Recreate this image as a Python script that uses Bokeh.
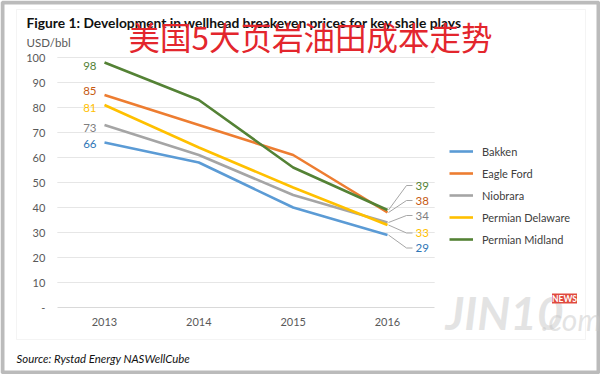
from bokeh.plotting import figure
from bokeh.models import (Range1d, FixedTicker, Label, LabelSet, ColumnDataSource,
                          Legend, LegendItem, BoxAnnotation)
from bokeh.core.properties import value
from bokeh.embed import file_html
from bokeh.resources import INLINE

# ---------------- data ----------------
years = [2013, 2014, 2015, 2016]
year_labels = ["2013", "2014", "2015", "2016"]
series_names = ["Bakken", "Eagle Ford", "Niobrara", "Permian Delaware", "Permian Midland"]
bakken = [66, 58, 40, 29]
eagle_ford = [85, 73, 61, 38]
niobrara = [73, 61, 45, 34]
permian_delaware = [81, 64, 48, 33]
permian_midland = [98, 83, 56, 39]
y_ticks = [0, 10, 20, 30, 40, 50, 60, 70, 80, 90, 100]
y_tick_labels = ["-", "10", "20", "30", "40", "50", "60", "70", "80", "90", "100"]

series_values = [bakken, eagle_ford, niobrara, permian_delaware, permian_midland]

# ---------------- style / layout ----------------
line_colors = ["#5B9BD5", "#ED7D31", "#A5A5A5", "#FFC000", "#548235"]
label_colors = ["#2E75B6", "#C65911", "#7F7F7F", "#FFC000", "#548235"]
FONT = "Lato"

W, H = 600, 374
# pixel positions of the first/last year and of y=0 / y=100
X_FIRST_PX, X_LAST_PX = 104, 387
Y0_PX, Y100_PX = 307, 57
PX_X = (X_LAST_PX - X_FIRST_PX) / (years[-1] - years[0])
PX_Y = (Y0_PX - Y100_PX) / 100.0
x_start = years[0] - X_FIRST_PX / PX_X
x_end = x_start + W / PX_X
y_start = 0 - (H - Y0_PX) / PX_Y
y_end = 100 + Y100_PX / PX_Y
X_LO, X_HI = years[0] - 0.5, years[-1] + 0.5

# label offsets (px)
left_dy = [-1, 4, -3, -3, -3]
right_dy = [-13, 12, 7, -8, 24.5]

p = figure(width=W, height=H, output_backend="svg", toolbar_location=None,
           x_range=Range1d(x_start, x_end), y_range=Range1d(y_start, y_end),
           min_border=0, min_border_left=0, min_border_right=0,
           min_border_top=0, min_border_bottom=0,
           background_fill_color="white", border_fill_color="white")
p.outline_line_color = None
p.xgrid.grid_line_color = None
p.ygrid.grid_line_color = None

# axes drawn at fixed positions
p.xaxis.ticker = FixedTicker(ticks=years)
p.xaxis.major_label_overrides = {y: l for y, l in zip(years, year_labels)}
p.yaxis.ticker = FixedTicker(ticks=y_ticks)
p.yaxis.major_label_overrides = {t: l for t, l in zip(y_ticks, y_tick_labels)}
for ax in (p.xaxis, p.yaxis):
    ax.major_tick_line_color = None
    ax.minor_tick_line_color = None
    ax.major_tick_out = 0
    ax.major_tick_in = 0
    ax.minor_tick_out = 0
    ax.minor_tick_in = 0
    ax.major_label_text_font = FONT
    ax.major_label_text_font_size = "11px"
    ax.major_label_text_color = "#595959"
p.yaxis.fixed_location = X_LO
p.yaxis.axis_line_color = None
p.yaxis.major_label_standoff = 12
p.xaxis.fixed_location = 0
p.xaxis.bounds = (X_LO, X_HI)
p.xaxis.axis_line_color = "#D9D9D9"
p.xaxis.major_label_standoff = 10

# horizontal gridlines
grid_y = y_ticks[1:]
p.segment(x0=[X_LO] * len(grid_y), x1=[X_HI] * len(grid_y), y0=grid_y, y1=grid_y,
          line_color="#E6E6E6", line_width=1)

# lines
renderers = []
for name, vals, col in zip(series_names, series_values, line_colors):
    r = p.line(years, vals, line_color=col, line_width=2.6)
    renderers.append(r)

# leader lines for right-hand labels
xs, ys = [], []
for vals, dy in zip(series_values, right_dy):
    v = vals[-1]
    xs.append([years[-1] + 1 / PX_X, years[-1] + 19 / PX_X, years[-1] + 25 / PX_X])
    ys.append([v, v + dy / PX_Y, v + dy / PX_Y])
p.multi_line(xs, ys, line_color="#A6A6A6", line_width=1)

# data labels
left_src = ColumnDataSource(dict(
    x=[years[0]] * 5, y=[v[0] for v in series_values],
    t=[str(v[0]) for v in series_values], c=label_colors, dy=left_dy))
p.add_layout(LabelSet(x="x", y="y", text="t", source=left_src, text_color="c",
                      x_offset=-8, y_offset="dy", text_align="right",
                      text_baseline="middle", text_font=value(FONT),
                      text_font_size="11.5px"))
right_src = ColumnDataSource(dict(
    x=[years[-1]] * 5, y=[v[-1] for v in series_values],
    t=[str(v[-1]) for v in series_values], c=label_colors, dy=right_dy))
p.add_layout(LabelSet(x="x", y="y", text="t", source=right_src, text_color="c",
                      x_offset=28, y_offset="dy", text_align="left",
                      text_baseline="middle", text_font=value(FONT),
                      text_font_size="11.5px"))

# legend
legend = Legend(items=[LegendItem(label=n, renderers=[r]) for n, r in zip(series_names, renderers)],
                location=(449, H - 250), orientation="vertical",
                glyph_width=24, glyph_height=22, label_height=22, spacing=0,
                padding=0, margin=0, label_standoff=9,
                border_line_color=None, background_fill_alpha=0,
                label_text_font=FONT, label_text_font_size="11px",
                label_text_color="#404040")
p.add_layout(legend)

# boxes (screen px)
p.add_layout(BoxAnnotation(left=16, right=585, top=H - 9, bottom=H - 339,
                           left_units="screen", right_units="screen",
                           top_units="screen", bottom_units="screen",
                           fill_alpha=0, line_color="#D9D9D9", line_width=1, level="underlay"))
p.add_layout(BoxAnnotation(left=2, right=W - 2, top=H - 2, bottom=2,
                           left_units="screen", right_units="screen",
                           top_units="screen", bottom_units="screen",
                           fill_alpha=0, line_color="#1E1E1E", line_width=4))

# texts
def add_text(txt, px, py, size, color, style="normal", align="left", font=FONT, alpha=1.0, **kw):
    p.add_layout(Label(x=px, y=H - py, x_units="screen", y_units="screen",
                       text=txt, text_font=font, text_font_size=size,
                       text_color=color, text_font_style=style, text_align=align,
                       text_baseline="middle", text_alpha=alpha, **kw))

add_text("Figure 1: Development in wellhead breakeven prices for key shale plays",
         26, 22, "13.8px", "#111111", style="bold")
add_text("USD/bbl", 26, 42, "11.5px", "#595959")
add_text("美国5大页岩油田成本走势", 128, 35, "31.5px", "#E3262D", font="Noto Sans CJK SC")
add_text("Source: Rystad Energy NASWellCube", 16, 358, "11.4px", "#111111", style="italic")

# watermark
add_text("JIN10", 445, 312, "46px", "#C8C8C8", style="bold italic", alpha=0.5)
add_text(".com", 541, 318, "30px", "#C8C8C8", style="italic", alpha=0.5)
add_text("NEWS", 564, 298, "8.5px", "#FFFFFF", style="bold", align="center",
         background_fill_color="#E04A3F")

open("out.html", "w").write(file_html(p, INLINE))
